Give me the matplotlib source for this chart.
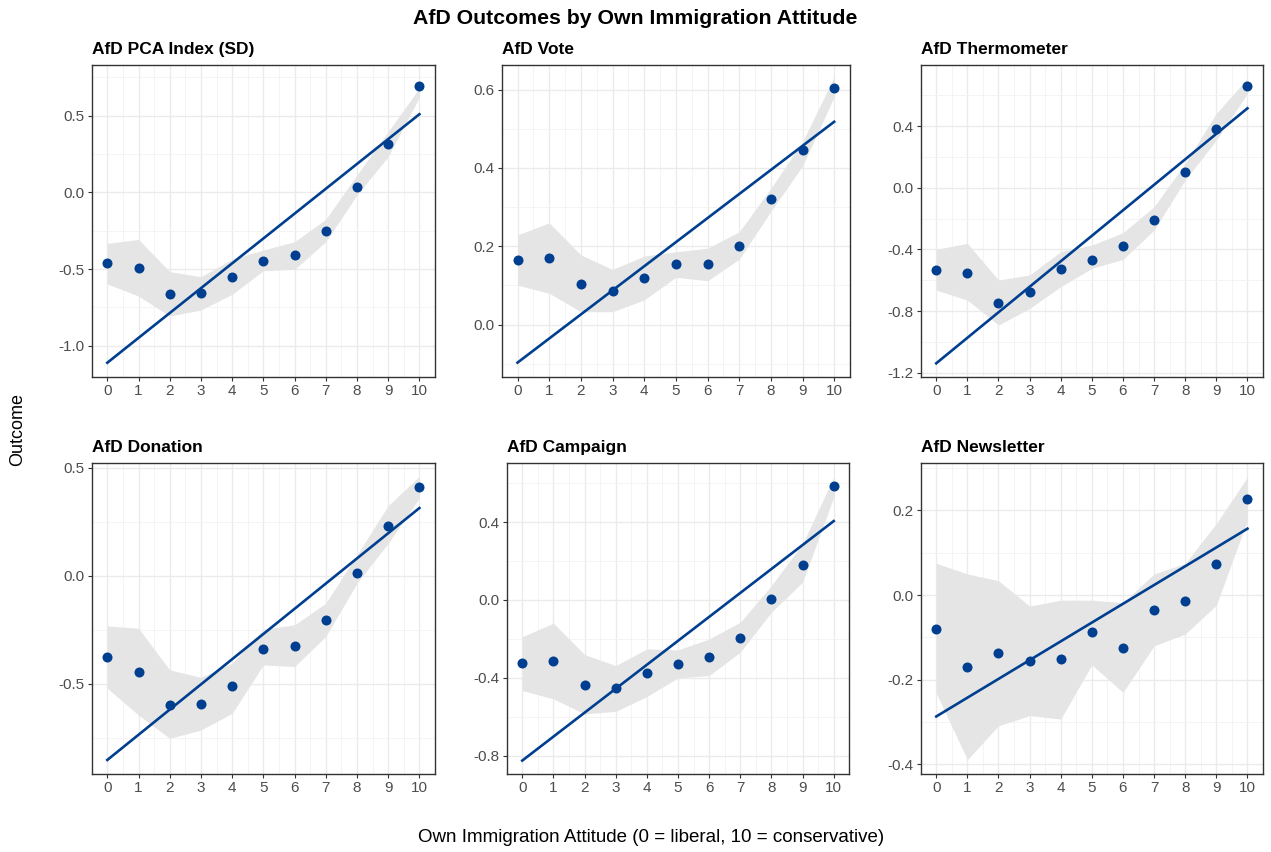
import numpy as np
import matplotlib
matplotlib.use("Agg")
import matplotlib.pyplot as plt
from matplotlib.ticker import FixedLocator, FormatStrFormatter

plt.rcParams["font.family"] = ["Liberation Sans", "DejaVu Sans"]
plt.rcParams["axes.unicode_minus"] = False

# attitude scale
attitude = np.arange(0, 11)

titles = ["AfD PCA Index (SD)", "AfD Vote", "AfD Thermometer",
          "AfD Donation", "AfD Campaign", "AfD Newsletter"]

# group means
pca_mean = [-0.463, -0.491, -0.665, -0.659, -0.55, -0.446, -0.407, -0.252, 0.035, 0.317, 0.693]
vote_mean = [0.165, 0.171, 0.105, 0.087, 0.118, 0.154, 0.154, 0.202, 0.322, 0.445, 0.605]
thermo_mean = [-0.534, -0.551, -0.746, -0.675, -0.53, -0.469, -0.378, -0.208, 0.099, 0.378, 0.659]
donation_mean = [-0.376, -0.447, -0.597, -0.594, -0.51, -0.34, -0.325, -0.206, 0.015, 0.233, 0.411]
campaign_mean = [-0.326, -0.314, -0.439, -0.454, -0.374, -0.329, -0.295, -0.194, 0.002, 0.18, 0.585]
newsletter_mean = [-0.080, -0.171, -0.138, -0.156, -0.152, -0.088, -0.125, -0.035, -0.014, 0.073, 0.227]

# confidence bands (lower / upper)
pca_lo = [-0.598, -0.676, -0.807, -0.767, -0.665, -0.511, -0.502, -0.322, -0.017, 0.233, 0.62]
pca_hi = [-0.333, -0.307, -0.517, -0.55, -0.437, -0.376, -0.322, -0.176, 0.113, 0.396, 0.68]
vote_lo = [0.101, 0.08, 0.033, 0.033, 0.063, 0.121, 0.112, 0.167, 0.289, 0.405, 0.582]
vote_hi = [0.229, 0.26, 0.178, 0.141, 0.175, 0.186, 0.195, 0.237, 0.348, 0.467, 0.633]
thermo_lo = [-0.664, -0.729, -0.891, -0.783, -0.642, -0.523, -0.465, -0.275, 0.05, 0.309, 0.612]
thermo_hi = [-0.4, -0.361, -0.599, -0.566, -0.415, -0.372, -0.292, -0.123, 0.158, 0.482, 0.709]
donation_lo = [-0.521, -0.645, -0.753, -0.714, -0.637, -0.413, -0.42, -0.281, -0.034, 0.151, 0.36]
donation_hi = [-0.232, -0.243, -0.436, -0.47, -0.405, -0.247, -0.227, -0.127, 0.097, 0.325, 0.461]
campaign_lo = [-0.466, -0.509, -0.586, -0.573, -0.497, -0.401, -0.389, -0.269, -0.063, 0.091, 0.528]
campaign_hi = [-0.189, -0.12, -0.281, -0.338, -0.252, -0.257, -0.201, -0.115, 0.074, 0.288, 0.631]
newsletter_lo = [-0.232, -0.389, -0.309, -0.285, -0.293, -0.165, -0.23, -0.12, -0.092, -0.024, 0.177]
newsletter_hi = [0.075, 0.05, 0.034, -0.026, -0.012, -0.012, -0.018, 0.05, 0.075, 0.169, 0.279]

# linear fit, value at attitude 0 and 10
fit_start = [-1.111, -0.097, -1.139, -0.853, -0.826, -0.287]
fit_end = [0.509, 0.518, 0.515, 0.314, 0.405, 0.157]

y_ticks = [[-1.0, -0.5, 0.0, 0.5], [0.0, 0.2, 0.4, 0.6], [-1.2, -0.8, -0.4, 0.0, 0.4],
           [-0.5, 0.0, 0.5], [-0.8, -0.4, 0.0, 0.4], [-0.4, -0.2, 0.0, 0.2]]
y_lims = [(-1.202, 0.830), (-0.133, 0.663), (-1.226, 0.796),
          (-0.918, 0.524), (-0.895, 0.705), (-0.423, 0.313)]

means = [pca_mean, vote_mean, thermo_mean, donation_mean, campaign_mean, newsletter_mean]
lows = [pca_lo, vote_lo, thermo_lo, donation_lo, campaign_lo, newsletter_lo]
highs = [pca_hi, vote_hi, thermo_hi, donation_hi, campaign_hi, newsletter_hi]

W, H = 1271, 852
# panel boxes in pixels: left, right, top, bottom
boxes = [(91.7, 435, 65, 376.7), (501.7, 850, 65, 376.7), (920.7, 1263, 65, 376.7),
         (91.7, 435, 462.7, 774), (506.7, 849.3, 462.7, 774), (920.7, 1263, 462.7, 774)]

blue = "#003F8F"
fig = plt.figure(figsize=(W / 100, H / 100), dpi=100)

for i in range(6):
    l, r, t, b = boxes[i]
    ax = fig.add_axes([l / W, 1 - b / H, (r - l) / W, (b - t) / H])
    ax.fill_between(attitude, lows[i], highs[i], color="#E5E5E5", lw=0, zorder=2)
    ax.plot([0, 10], [fit_start[i], fit_end[i]], color=blue, lw=1.9, zorder=3)
    ax.scatter(attitude, means[i], s=52, color=blue, zorder=4, linewidths=0)

    ax.set_xlim(-0.5, 10.5)
    ax.set_ylim(*y_lims[i])
    ax.set_xticks(attitude)
    ax.xaxis.set_minor_locator(FixedLocator(attitude[:-1] + 0.5))
    yt = y_ticks[i]
    ax.set_yticks(yt)
    step = yt[1] - yt[0]
    ax.yaxis.set_minor_locator(FixedLocator(np.arange(yt[0] - step, yt[-1] + step * 1.5, step) + step / 2))
    ax.yaxis.set_major_formatter(FormatStrFormatter("%.1f"))
    ax.grid(which="major", color="#EBEBEB", lw=1.0, zorder=0)
    ax.grid(which="minor", color="#F2F2F2", lw=0.6, zorder=0)
    ax.set_axisbelow(True)
    ax.tick_params(which="major", length=3, width=0.8, color="#333333",
                   labelsize=11, labelcolor="#4D4D4D", pad=2)
    ax.tick_params(which="minor", length=0)
    for s in ax.spines.values():
        s.set_color("#333333")
        s.set_linewidth(1.0)
    ax.set_title(titles[i], loc="left", fontsize=12.5, fontweight="bold", pad=8)

fig.text(0.5, 1 - 19 / H, "AfD Outcomes by Own Immigration Attitude",
         ha="center", va="center", fontsize=15.3, fontweight="bold")
fig.text(651 / W, 1 - 838 / H, "Own Immigration Attitude (0 = liberal, 10 = conservative)",
         ha="center", va="center", fontsize=13.5)
fig.text(18 / W, 1 - 430 / H, "Outcome", ha="center", va="center",
         rotation=90, fontsize=13)

fig.savefig("out.png", dpi=100)
